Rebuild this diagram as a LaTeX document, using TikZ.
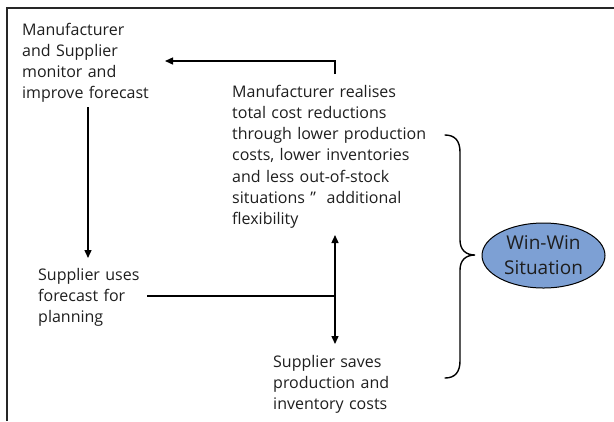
\documentclass[tikz,border=0pt]{standalone}
\usepackage{fontspec}
\setmainfont{Open Sans}
\usetikzlibrary{arrows.meta,shapes.geometric}
\definecolor{winfill}{RGB}{125,160,212}
\definecolor{inkgray}{RGB}{30,30,30}
\begin{document}
\begin{tikzpicture}[x=1bp,y=-1bp,
  label/.style={anchor=base west,inner sep=0pt,align=left,text width=210bp,
    font=\fontsize{16bp}{21.3bp}\selectfont,text=inkgray},
  conn/.style={line width=1.4bp,draw=black},
  arr/.style={conn,-{Triangle[length=8bp,width=7bp]}},
  darr/.style={conn,{Triangle[length=8bp,width=7bp]}-{Triangle[length=8bp,width=7bp]}}]
  \useasboundingbox (0,0) rectangle (614,421);

  % open frame: top edge and left edge
  \draw[line width=1.5bp,draw=black!85] (7,421) -- (7,8) -- (614,8);

  % text blocks
  \node[label] (monitor) at (22,35) {Manufacturer\\and Supplier\\monitor and\\improve forecast};
  \node[label] (mfr) at (232,97) {Manufacturer realises\\total cost reductions\\through lower production\\costs, lower inventories\\and less out-of-stock\\situations \symbol{34}\ \ additional\\flexibility};
  \node[label] (uses) at (38,280) {Supplier uses\\forecast for\\planning};
  \node[label] (saves) at (273,367) {Supplier saves\\production and\\inventory costs};

  % Win-Win ellipse
  \node[ellipse,draw=black,line width=1bp,fill=winfill,minimum width=123bp,minimum height=65bp,
    inner sep=0pt,align=center,font=\fontsize{19bp}{25bp}\selectfont,text=inkgray] (win) at (543.5,255.5)
    {Win-Win\\Situation};

  % connector anchors
  \coordinate (fromMfr) at (335,74);
  \coordinate (toMonitor) at (165,61);
  \coordinate (monBottom) at (88,107);
  \coordinate (usesTop) at (88,258);
  \coordinate (usesRight) at (147,296);
  \coordinate (junction) at (335,296);
  \coordinate (mfrBottom) at (335,235);
  \coordinate (savesTop) at (335,344);

  \draw[arr] (fromMfr) |- (toMonitor);
  \draw[arr] (monBottom) -- (usesTop);
  \draw[conn] (usesRight) -- (junction);
  \draw[darr] (mfrBottom) -- (savesTop);

  % curly brace grouping the outcomes
  \draw[line width=1.4bp,line cap=round]
    (445,135) .. controls (455,135) and (460,141) .. (460,152)
    -- (460,240) .. controls (460,250) and (466,255) .. (475,255)
    .. controls (466,255) and (460,260) .. (460,270)
    -- (460,361) .. controls (460,372) and (455,378) .. (445,378);
\end{tikzpicture}
\end{document}
